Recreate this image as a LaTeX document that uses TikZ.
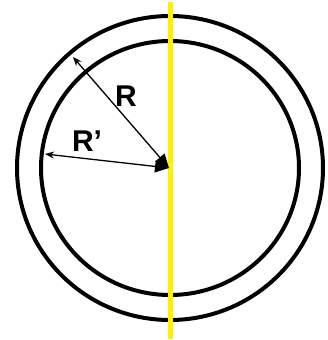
\documentclass[tikz,border=0pt]{standalone}
\usepackage{fontspec}
\setmainfont{Liberation Sans}
\usetikzlibrary{arrows.meta}
\begin{document}
\begin{tikzpicture}[x=1pt,y=-1pt,
  ring/.style={line width=4pt,draw=black},
  radius arrow/.style={line width=1.3pt,{Stealth[length=9pt,width=7pt]}-{Triangle[length=14pt,width=12pt]}},
  lbl/.style={font=\fontsize{30}{32}\selectfont\bfseries,inner sep=0pt}]
\useasboundingbox (0,0) rectangle (327,340);
\coordinate (C) at (170,168);
\draw[ring] (C) ellipse[x radius=153,y radius=152];
\draw[ring] (C) ellipse[x radius=129,y radius=127];
\coordinate (top) at (170,2);
\coordinate (bot) at (170,339);
\draw[line width=5pt,draw={rgb,255:red,255;green,240;blue,0}] (top) -- (bot);
\coordinate (Rtip) at (73,57);
\coordinate (Rptip) at (45,154);
\coordinate (ctr) at (169,168);
\draw[radius arrow] (Rtip) -- (ctr);
\draw[radius arrow] (Rptip) -- (ctr);
\node[lbl] (R) at (126,96) {R};
\node[lbl] (Rp) at (87,141) {R’};
\end{tikzpicture}
\end{document}
